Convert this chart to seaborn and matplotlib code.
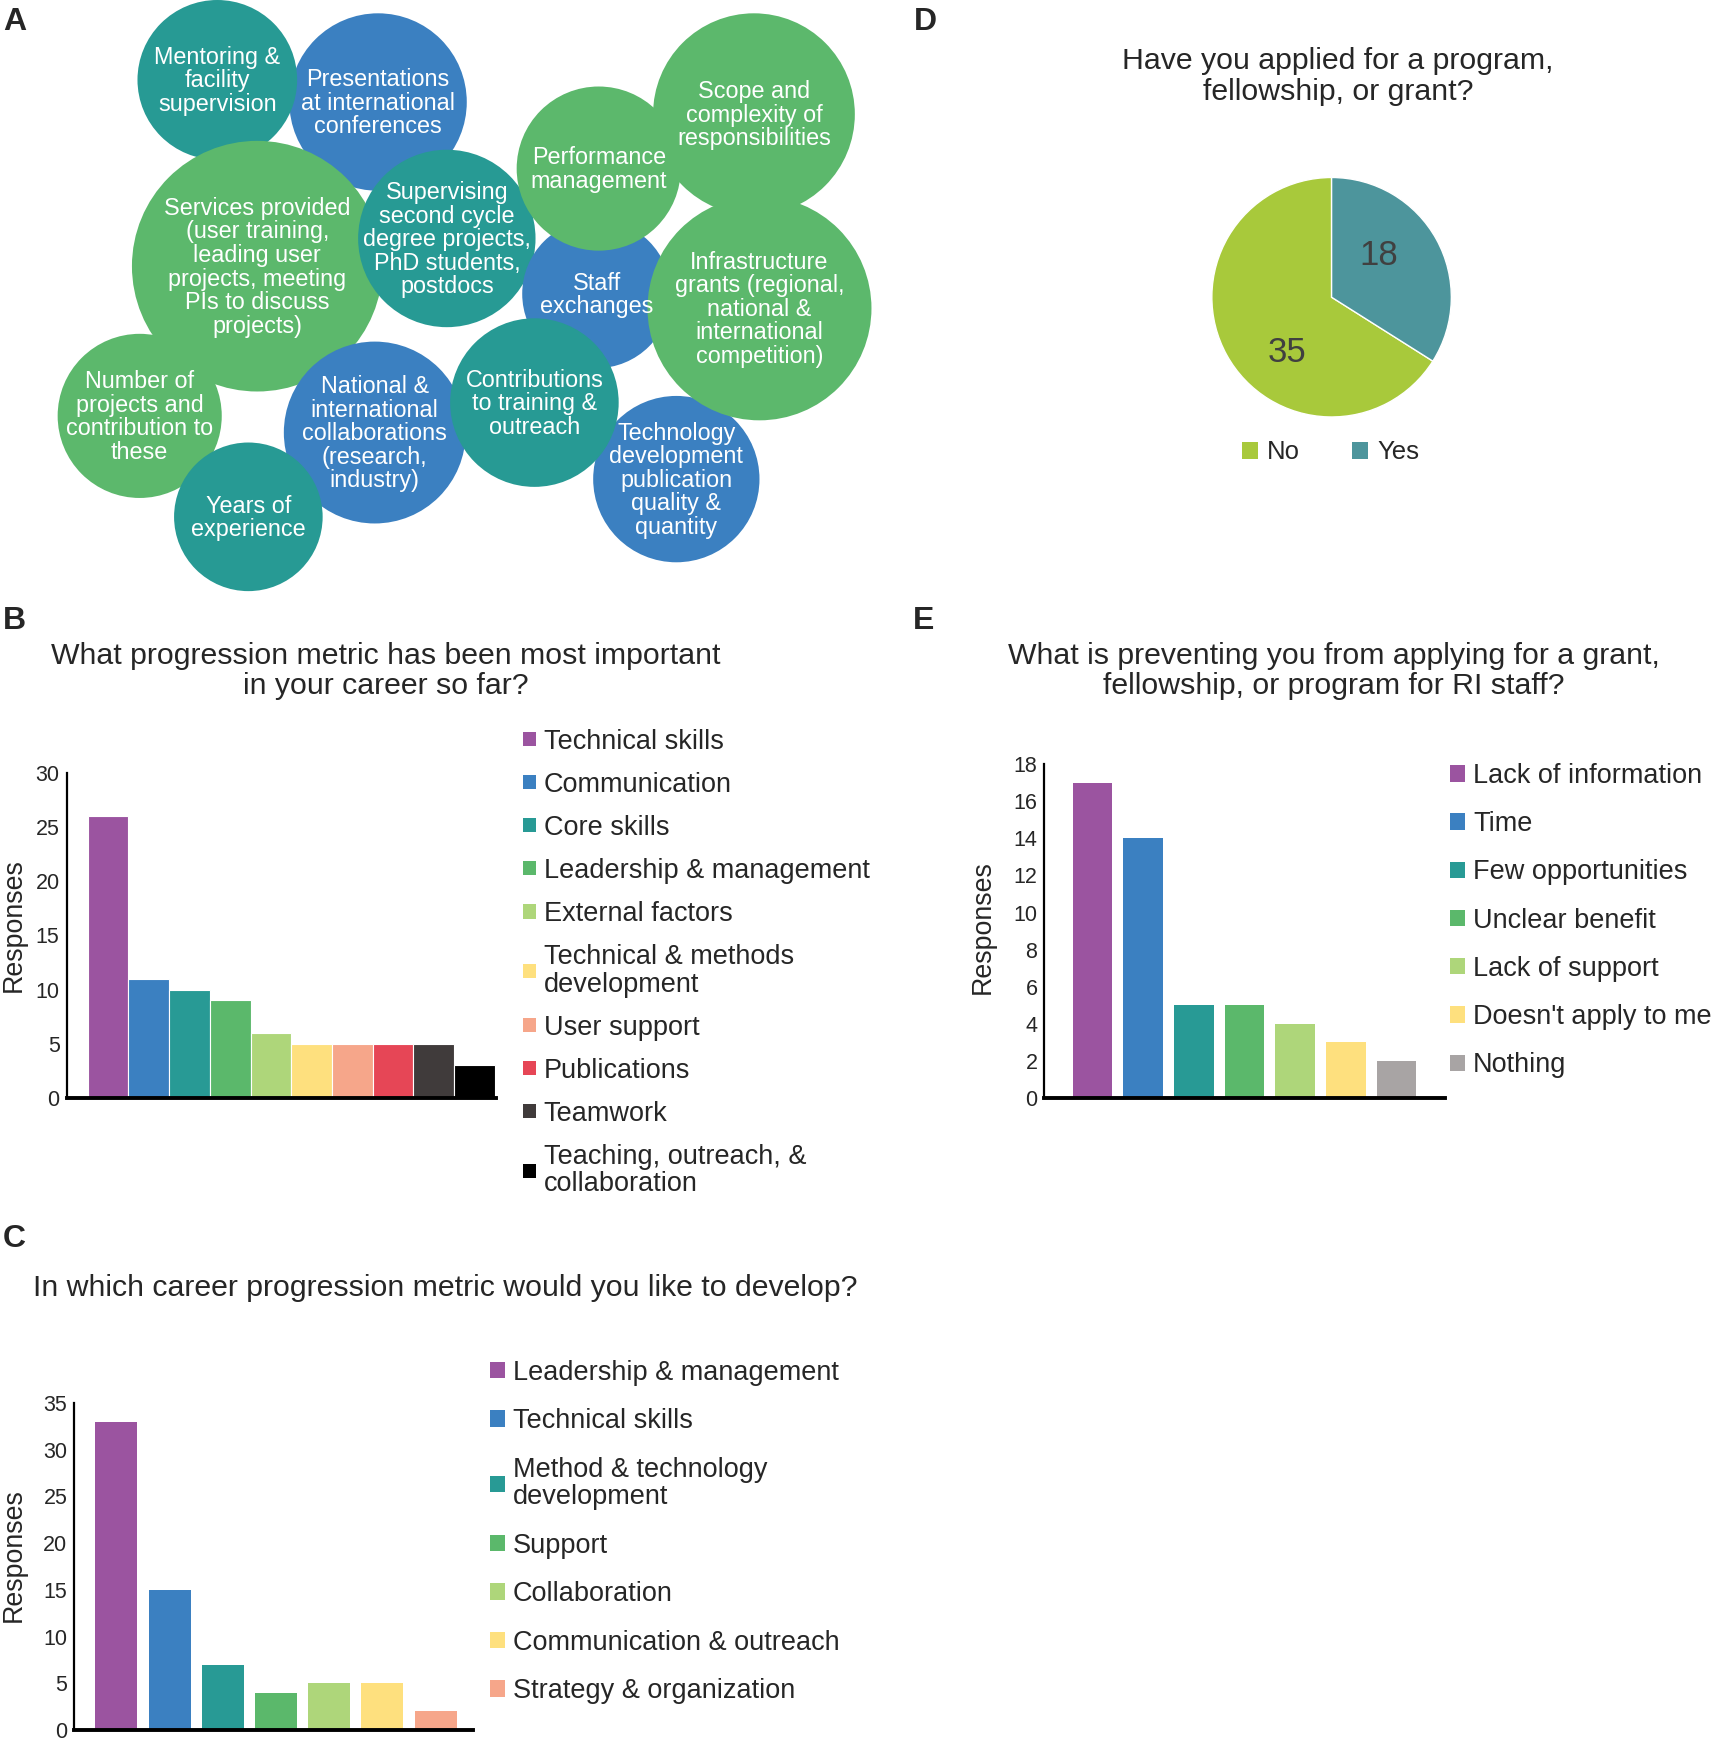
import matplotlib
matplotlib.use("Agg")
import matplotlib.pyplot as plt
from matplotlib.patches import Circle, Patch
import seaborn as sns

# ---- data ----
# panel A bubbles (label, x, y, radius, colour group)
bubble_labels = ["Presentations\nat international\nconferences",
                 "Mentoring &\nfacility\nsupervision",
                 "Services provided\n(user training,\nleading user\nprojects, meeting\nPIs to discuss\nprojects)",
                 "Supervising\nsecond cycle\ndegree projects,\nPhD students,\npostdocs",
                 "Staff\nexchanges",
                 "Scope and\ncomplexity of\nresponsibilities",
                 "Performance\nmanagement",
                 "Technology\ndevelopment\npublication\nquality &\nquantity",
                 "Infrastructure\ngrants (regional,\nnational &\ninternational\ncompetition)",
                 "Number of\nprojects and\ncontribution to\nthese",
                 "National &\ninternational\ncollaborations\n(research,\nindustry)",
                 "Years of\nexperience",
                 "Contributions\nto training &\noutreach"]
bubble_x = [341, 196, 232, 403, 538, 680, 540, 610, 685, 126, 338, 224, 482]
bubble_y = [92, 72, 240, 215, 265, 103, 152, 432, 278, 375, 390, 466, 363]
bubble_r = [80, 72, 113, 80, 67, 91, 74, 75, 101, 74, 82, 67, 76]
bubble_group = ["blue", "teal", "green", "teal", "blue", "green", "green",
                "blue", "green", "green", "blue", "teal", "teal"]

# panel B
b_labels = ["Technical skills", "Communication", "Core skills", "Leadership & management",
            "External factors", "Technical & methods\ndevelopment", "User support",
            "Publications", "Teamwork", "Teaching, outreach, &\ncollaboration"]
b_values = [26, 11, 10, 9, 6, 5, 5, 5, 5, 3]

# panel C
c_labels = ["Leadership & management", "Technical skills", "Method & technology\ndevelopment",
            "Support", "Collaboration", "Communication & outreach", "Strategy & organization"]
c_values = [33, 15, 7, 4, 5, 5, 2]

# panel D
d_labels = ["No", "Yes"]
d_values = [35, 18]

# panel E
e_labels = ["Lack of information", "Time", "Few opportunities", "Unclear benefit",
            "Lack of support", "Doesn't apply to me", "Nothing"]
e_values = [17, 14, 5, 5, 4, 3, 2]

# ---- style ----
group_colors = {"teal": "#279A94", "blue": "#3B80C1", "green": "#5CB86C"}
bar_colors = ["#9B54A0", "#3B80C1", "#289A95", "#5BB86B", "#AED67A",
              "#FEE07E", "#F6A68A", "#E64656", "#403B3B", "#000000"]
e_colors = bar_colors[:6] + ["#A8A4A4"]
pie_colors = ["#A8C93B", "#4D959C"]

sns.set_theme(style="white")
FONT = ["Liberation Sans", "DejaVu Sans"]
plt.rcParams["font.family"] = FONT

W, H = 1545.0, 1568.0


def box(x0, y0, x1, y1):
    return [x0 / W, 1 - y1 / H, (x1 - x0) / W, (y1 - y0) / H]


def fx(x):
    return x / W


def fy(y):
    return 1 - y / H


fig = plt.figure(figsize=(17.13, 17.39), dpi=100)

# ---- A: bubbles ----
ax_a = fig.add_axes(box(0, 0, 800, 540))
ax_a.set_xlim(0, 800)
ax_a.set_ylim(540, 0)
ax_a.axis("off")
for x, y, r, g in zip(bubble_x, bubble_y, bubble_r, bubble_group):
    ax_a.add_patch(Circle((x, y), r, color=group_colors[g], lw=0))
for lab, x, y in zip(bubble_labels, bubble_x, bubble_y):
    ax_a.text(x, y + 1, lab, color="white", fontsize=16.8, ha="center", va="center",
              linespacing=1.03, zorder=5)


def bar_panel(rect, labels, values, colors, ymax, ystep, xlim, width, edge):
    ax = fig.add_axes(rect)
    sns.barplot(x=labels, y=values, hue=labels, palette=colors, legend=False,
                saturation=1, width=width, edgecolor=edge, linewidth=0.8, ax=ax)
    ax.set_xlim(*xlim)
    ax.set_ylim(0, ymax)
    ax.set_yticks(range(0, ymax + 1, ystep))
    ax.set_xticks([])
    ax.set_xlabel("")
    ax.set_ylabel("")
    ax.tick_params(axis="y", length=0, pad=5, labelsize=15.5)
    for s in ["top", "right"]:
        ax.spines[s].set_visible(False)
    ax.spines["left"].set_color("black")
    ax.spines["left"].set_linewidth(1.6)
    ax.spines["bottom"].set_color("black")
    ax.spines["bottom"].set_linewidth(2.8)
    return ax


def side_legend(labels, colors, x, y, spacing, hsize=0.45):
    handles = [Patch(facecolor=c, edgecolor="none") for c in colors]
    leg = fig.legend(handles, labels, loc="upper left", bbox_to_anchor=(fx(x), fy(y)),
                     frameon=False, fontsize=19.5, handlelength=hsize, handleheight=hsize,
                     handletextpad=0.3, labelspacing=spacing, borderpad=0, borderaxespad=0)
    for t in leg.get_texts():
        t.set_linespacing(1.08)
    return leg


# ---- B ----
bar_panel(box(60, 697, 447, 990), b_labels, b_values, bar_colors, 30, 5,
          (-1.02, 9.52), 1.0, "white")
side_legend(b_labels, bar_colors, 472, 657, 0.63)
fig.text(fx(348), fy(605), "What progression metric has been most important\nin your career so far?",
         ha="center", va="center", fontsize=21.8, linespacing=1.1)
fig.text(fx(12), fy(834), "Responses", rotation=90, ha="center", va="center", fontsize=19.3)

# ---- C ----
bar_panel(box(67, 1265, 427, 1560), c_labels, c_values, bar_colors[:7], 35, 5,
          (-0.79, 6.71), 0.79, "none")
side_legend(c_labels, bar_colors[:7], 442, 1226, 0.83, 0.55)
fig.text(fx(402), fy(1161), "In which career progression metric would you like to develop?",
         ha="center", va="center", fontsize=21.8)
fig.text(fx(12), fy(1402), "Responses", rotation=90, ha="center", va="center", fontsize=19.3)

# ---- E ----
bar_panel(box(942, 689, 1303, 990), e_labels, e_values, e_colors, 18, 2,
          (-0.95, 6.95), 0.78, "none")
side_legend(e_labels, e_colors, 1308, 688, 0.82, 0.55)
fig.text(fx(1203), fy(605), "What is preventing you from applying for a grant,\nfellowship, or program for RI staff?",
         ha="center", va="center", fontsize=21.8, linespacing=1.1)
fig.text(fx(886), fy(836), "Responses", rotation=90, ha="center", va="center", fontsize=19.3)

# ---- D: pie ----
ax_d = fig.add_axes(box(1201 - 135, 268 - 135, 1201 + 135, 268 + 135))
wedges, _, autotexts = ax_d.pie(d_values, colors=pie_colors, startangle=90, counterclock=True,
                                autopct=lambda p: f"{round(p * sum(d_values) / 100)}",
                                pctdistance=0.58, textprops={"fontsize": 25, "color": "#404040"})
# Excel-style label placement
autotexts[0].set_position((-0.37, -0.46))
autotexts[1].set_position((0.39, 0.35))
ax_d.set_aspect("equal")
fig.legend([Patch(facecolor=c, edgecolor="none") for c in pie_colors], d_labels,
           loc="center", bbox_to_anchor=(fx(1200), fy(408)), ncol=2, frameon=False,
           fontsize=18.5, handlelength=0.65, handleheight=0.65, handletextpad=0.35,
           columnspacing=2.0)
fig.text(fx(1207), fy(69), "Have you applied for a program,\nfellowship, or grant?",
         ha="center", va="center", fontsize=21.8, linespacing=1.1)

# ---- panel letters ----
for letter, x, y in [("A", 13, 20), ("D", 835, 20), ("B", 13, 560), ("E", 833, 560), ("C", 13, 1117)]:
    fig.text(fx(x), fy(y), letter, ha="center", va="center", fontsize=23, fontweight="bold")

fig.savefig("out.png", dpi=100)
